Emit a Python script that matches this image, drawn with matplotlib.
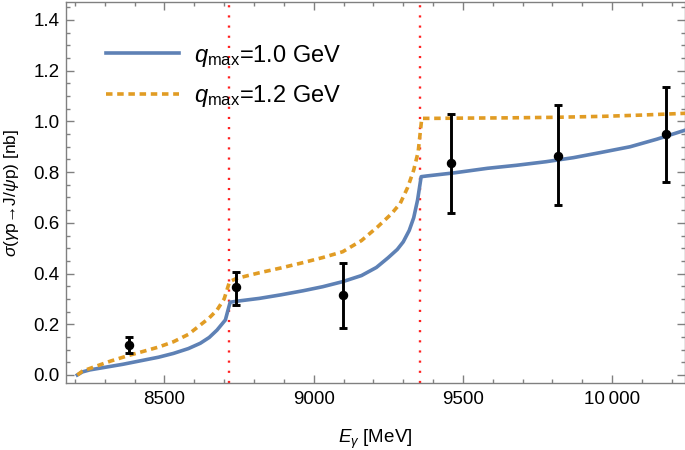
import matplotlib
matplotlib.use("Agg")
import matplotlib.pyplot as plt
from matplotlib.ticker import MultipleLocator

# ---- data ----
# q_max = 1.0 GeV (solid blue)
E_q10 = [8208, 8225, 8250, 8300, 8360, 8420, 8480, 8530, 8580, 8620, 8650, 8676,
         8704, 8720, 8750, 8818, 8890, 8964, 9030, 9097, 9160, 9210, 9249, 9280, 9300,
         9320, 9335, 9348, 9360, 9380, 9470, 9582, 9680, 9778, 9870, 9960, 10060, 10150, 10246]
sig_q10 = [0.0, 0.012, 0.020, 0.030, 0.042, 0.056, 0.070, 0.085, 0.104, 0.125, 0.148, 0.177,
           0.217, 0.287, 0.292, 0.302, 0.316, 0.332, 0.348, 0.368, 0.392, 0.424, 0.462, 0.495, 0.525,
           0.570, 0.620, 0.690, 0.782, 0.785, 0.797, 0.815, 0.827, 0.841, 0.857, 0.877, 0.900, 0.930, 0.966]

# q_max = 1.2 GeV (dashed orange)
E_q12 = [8208, 8225, 8260, 8320, 8383, 8420, 8480, 8530, 8580, 8620, 8650, 8676,
         8700, 8718, 8740, 8780, 8818, 8890, 8964, 9030, 9097, 9160, 9215, 9260,
         9290, 9315, 9335, 9350, 9362, 9400, 9500, 9650, 9800, 9970, 10100, 10246]
sig_q12 = [0.0, 0.015, 0.030, 0.055, 0.078, 0.090, 0.110, 0.131, 0.160, 0.197, 0.225, 0.256,
           0.300, 0.368, 0.380, 0.392, 0.403, 0.422, 0.443, 0.463, 0.486, 0.530, 0.585, 0.635,
           0.677, 0.740, 0.808, 0.880, 1.012, 1.012, 1.013, 1.014, 1.016, 1.020, 1.025, 1.032]

# measured points
E_data = [8382, 8741, 9097, 9459, 9817, 10179]
sig_data = [0.118, 0.346, 0.314, 0.835, 0.865, 0.952]
err_lo = [0.032, 0.070, 0.130, 0.195, 0.193, 0.191]
err_hi = [0.031, 0.061, 0.126, 0.193, 0.198, 0.184]

# thresholds (red dotted lines)
thresholds = [8715, 9357]

xticks = [8500, 9000, 9500, 10000]
xticklabels = ["8500", "9000", "9500", "10\u2009000"]
yticks = [0.0, 0.2, 0.4, 0.6, 0.8, 1.0, 1.2, 1.4]

BLUE = "#5E81B5"
ORANGE = "#E19C24"

plt.rcParams['font.family'] = ['Liberation Sans', 'DejaVu Sans']
plt.rcParams['mathtext.fontset'] = 'custom'
plt.rcParams['mathtext.rm'] = 'Liberation Sans'
plt.rcParams['mathtext.it'] = 'Liberation Sans:italic'

fig = plt.figure(figsize=(6.85, 4.5), dpi=100)
ax = fig.add_axes([0.0959, 0.149, 0.9041, 0.8466])

for xv in thresholds:
    ax.axvline(xv, color="#FF2020", lw=1.7, linestyle=(0, (0.9, 3.4)), zorder=1)

ax.plot(E_q10, sig_q10, color=BLUE, lw=2.6, label=r"$q_{\rm max}$=1.0 GeV", zorder=3)
ax.plot(E_q12, sig_q12, color=ORANGE, lw=2.6, linestyle=(0, (1.8, 1.3)),
        label=r"$q_{\rm max}$=1.2 GeV", zorder=3)

ax.errorbar(E_data, sig_data, yerr=[err_lo, err_hi], fmt="o", color="black",
            ms=5.8, elinewidth=2.1, capsize=3.2, capthick=2.1, zorder=4)

ax.set_xlim(8169, 10244)
ax.set_ylim(-0.0315, 1.471)

ax.set_xticks(xticks)
ax.set_xticklabels(xticklabels)
ax.set_yticks(yticks)
ax.set_yticklabels([f"{v:.1f}" for v in yticks])
ax.xaxis.set_minor_locator(MultipleLocator(100))
ax.yaxis.set_minor_locator(MultipleLocator(0.05))

ax.tick_params(which="both", direction="in", top=True, right=True,
               color="#808080", width=1.0, labelsize=13.5, labelcolor="black")
ax.tick_params(which="major", length=5.5)
ax.tick_params(which="minor", length=3.0)
ax.tick_params(axis="y", pad=4.5)
ax.tick_params(axis="x", pad=6)

for s in ax.spines.values():
    s.set_color("#808080")
    s.set_linewidth(1.0)

ax.set_xlabel(r"$E_\gamma$ [MeV]", fontsize=13.5, labelpad=14)
ax.set_ylabel(r"$\sigma$($\gamma$p→J/$\psi$p) [nb]", fontsize=12.5, labelpad=9)

ax.legend(loc="upper left", bbox_to_anchor=(0.065, 0.893), frameon=False,
          fontsize=17, handlelength=3.1, handletextpad=0.65, labelspacing=0.6,
          borderpad=0, borderaxespad=0)

fig.savefig("out.png", dpi=100)
